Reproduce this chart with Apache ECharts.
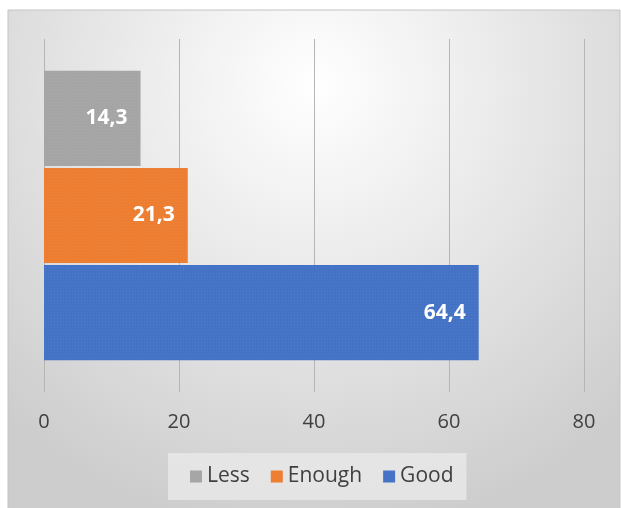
<!DOCTYPE html>
<html>
<head>
<meta charset="utf-8">
<script src="https://cdn.jsdelivr.net/npm/echarts@6/dist/echarts.min.js"></script>
<style>
  html, body { margin: 0; padding: 0; background: #fff; }
  #main { width: 621px; height: 508px; }
</style>
</head>
<body>
<div id="main"></div>
<script>
// 数据
const categories = ['']
const seriesNames = ['Less', 'Enough', 'Good']
const lessData = [14.3]
const enoughData = [21.3]
const goodData = [64.4]
const colors = { Less: '#a5a5a5', Enough: '#ed7d31', Good: '#4472c4' }

const fmt = p => String(p.value).replace('.', ',')

function makeSeries(name, data) {
  return {
    name: name,
    type: 'bar',
    data: data,
    barGap: '2%',
    barCategoryGap: '18%',
    itemStyle: {
      color: colors[name],
      decal: {
        symbol: 'rect',
        symbolSize: 0.5,
        color: 'rgba(255,255,255,0.25)',
        dashArrayX: [1, 2],
        dashArrayY: [1, 2]
      }
    },
    label: {
      show: true,
      position: 'insideRight',
      distance: 13,
      color: '#fff',
      fontWeight: 'bold',
      fontSize: 21,
      fontFamily: 'Open Sans',
      formatter: fmt
    }
  }
}

const myChart = echarts.init(document.getElementById('main'))
myChart.setOption({
  animation: false,
  graphic: [{
    type: 'rect',
    z: -10,
    shape: { x: 8, y: 10, width: 612, height: 500 },
    style: {
      fill: {
        type: 'radial', x: 0.5, y: 0.15, r: 0.9,
        colorStops: [{ offset: 0, color: '#ffffff' }, { offset: 1, color: '#cdcdcd' }]
      },
      stroke: '#c4c4c4',
      lineWidth: 1
    }
  }],
  grid: { left: 44, right: 37, top: 39, bottom: 116, containLabel: false },
  legend: {
    data: seriesNames,
    bottom: 8,
    left: 168,
    padding: [13, 13, 13, 22],
    backgroundColor: 'rgba(232,232,232,0.85)',
    itemWidth: 12,
    itemHeight: 12,
    itemGap: 21,
    icon: 'rect',
    textStyle: { fontSize: 21, color: '#404040', fontFamily: 'Open Sans' }
  },
  xAxis: {
    type: 'value',
    min: 0,
    max: 80,
    interval: 20,
    axisLine: { show: false },
    axisTick: { show: false },
    splitLine: { lineStyle: { color: '#b5b5b5', width: 1 } },
    axisLabel: { fontSize: 20, color: '#404040', margin: 20, fontFamily: 'Open Sans' }
  },
  yAxis: {
    type: 'category',
    data: categories,
    axisLine: { show: false },
    axisTick: { show: false },
    axisLabel: { show: false }
  },
  series: [
    makeSeries('Less', lessData),
    makeSeries('Enough', enoughData),
    makeSeries('Good', goodData)
  ]
})
</script>
</body>
</html>
